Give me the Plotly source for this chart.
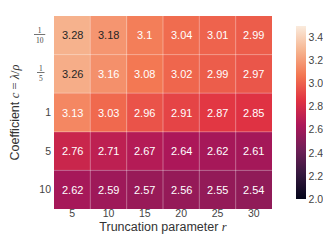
import plotly.graph_objects as go

# ---- data ----
r_values = [5, 10, 15, 20, 25, 30]
c_num = ["1", "1", None, None, None]
c_den = ["10", "5", None, None, None]
c_labels = ["1/10", "1/5", "1", "5", "10"]
row_tenth = [3.28, 3.18, 3.1, 3.04, 3.01, 2.99]
row_fifth = [3.26, 3.16, 3.08, 3.02, 2.99, 2.97]
row_one = [3.13, 3.03, 2.96, 2.91, 2.87, 2.85]
row_five = [2.76, 2.71, 2.67, 2.64, 2.62, 2.61]
row_ten = [2.62, 2.59, 2.57, 2.56, 2.55, 2.54]
z = [row_tenth, row_fifth, row_one, row_five, row_ten]
vmin, vmax = 2.0, 3.5
cbar_ticks = [2.0, 2.2, 2.4, 2.6, 2.8, 3.0, 3.2, 3.4]

# seaborn "rocket" colormap approximation
rocket = [
    (0.0, (3, 5, 26)),
    (1 / 7, (53, 25, 62)),
    (2 / 7, (112, 31, 87)),
    (3 / 7, (173, 23, 89)),
    (4 / 7, (225, 51, 66)),
    (5 / 7, (243, 118, 81)),
    (6 / 7, (246, 180, 143)),
    (1.0, (250, 235, 221)),
]
colorscale = [[p, "rgb(%d,%d,%d)" % c] for p, c in rocket]


def color_at(t):
    for (p0, c0), (p1, c1) in zip(rocket[:-1], rocket[1:]):
        if p0 <= t <= p1:
            f = (t - p0) / (p1 - p0)
            return [c0[i] + f * (c1[i] - c0[i]) for i in range(3)]
    return list(rocket[-1][1])


def luminance(rgb):
    out = []
    for v in rgb:
        v = v / 255
        out.append(v / 12.92 if v <= 0.03928 else ((v + 0.055) / 1.055) ** 2.4)
    return 0.2126 * out[0] + 0.7152 * out[1] + 0.0722 * out[2]


SANS = "Liberation Sans, Arial, sans-serif"
SERIF = "Liberation Serif, DejaVu Serif, serif"

nx, ny = len(r_values), len(c_labels)
xs = list(range(nx))
ys = list(range(ny))

fig = go.Figure()
fig.add_trace(go.Heatmap(
    z=z, x=xs, y=ys, zmin=vmin, zmax=vmax, colorscale=colorscale,
    showscale=True, hoverinfo="skip",
    colorbar=dict(
        x=1.065, xanchor="left", y=0.5, yanchor="middle", len=1.0,
        thickness=10, outlinewidth=0, ticks="", tickvals=cbar_ticks,
        ticktext=["%.1f" % t for t in cbar_ticks],
        tickfont=dict(size=10.5, color="#444", family=SANS),
    ),
))

annotations = []
for j, row in enumerate(z):
    for i, v in enumerate(row):
        t = (v - vmin) / (vmax - vmin)
        col = "#262626" if luminance(color_at(t)) > 0.408 else "white"
        annotations.append(dict(x=xs[i], y=ys[j], text=str(v), showarrow=False,
                                font=dict(size=11, color=col, family=SANS)))

# stacked fraction tick labels
ytick_text = []
for j in ys:
    if c_num[j] is not None:
        ytick_text.append("")
        num = "\u00a0" * 2 + c_num[j] + "\u00a0" * 2 if len(c_den[j]) > 1 else "\u00a0" + c_num[j] + "\u00a0"
        annotations.append(dict(
            xref="paper", yref="y", x=0, y=ys[j], xanchor="right", yanchor="middle",
            xshift=-7, showarrow=False, align="center",
            text="<span style='text-decoration:underline'>%s</span><br>%s" % (num, c_den[j]),
            font=dict(size=7.5, color="#444", family=SERIF)))
    else:
        ytick_text.append(c_labels[j])

shapes = []
for i in range(1, nx):
    shapes.append(dict(type="line", xref="x", yref="y", x0=i - 0.5, x1=i - 0.5,
                       y0=-0.5, y1=ny - 0.5, line=dict(color="rgba(255,255,255,0.35)", width=1)))
for j in range(1, ny):
    shapes.append(dict(type="line", xref="x", yref="y", x0=-0.5, x1=nx - 0.5,
                       y0=j - 0.5, y1=j - 0.5, line=dict(color="rgba(255,255,255,0.35)", width=1)))

fig.update_layout(
    width=331, height=245,
    margin=dict(l=46, r=54, t=8, b=44),
    paper_bgcolor="white", plot_bgcolor="white",
    font=dict(family=SANS, color="#333"),
    annotations=annotations, shapes=shapes,
    xaxis=dict(tickvals=xs, ticktext=[str(v) for v in r_values], showgrid=False,
               zeroline=False, ticks="", range=[-0.5, nx - 0.5], ticklabelstandoff=-4,
               tickfont=dict(size=10.5, color="#444"),
               title=dict(text="Truncation parameter <span style='font-family:%s'><i>r</i></span>" % SERIF,
                          font=dict(size=12.5, color="#333"), standoff=4)),
    yaxis=dict(tickvals=ys, ticktext=ytick_text, showgrid=False, zeroline=False, ticks="",
               range=[ny - 0.5, -0.5], tickfont=dict(size=10.5, color="#444"),
               ticklabelstandoff=2,
               title=dict(text=("Coefficient <span style='font-family:{s}'><i>c</i> = <i>λ</i>/<i>ρ</i></span>"
                                ).format(s=SERIF),
                          font=dict(size=12.5, color="#333"), standoff=16)),
)

fig.write_html("out.html")
